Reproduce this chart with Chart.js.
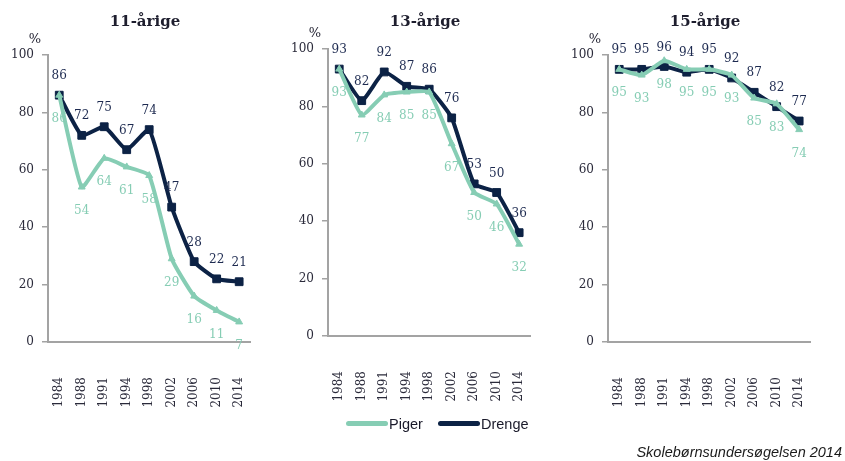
<!DOCTYPE html>
<html><head><meta charset="utf-8">
<script src="https://cdn.jsdelivr.net/npm/chart.js@4.4.1/dist/chart.umd.min.js"></script>
<style>
body{margin:0;background:#fff;width:845px;height:461px;overflow:hidden;position:relative}
.panel{position:absolute;top:0;width:290px;height:420px}
.leg{position:absolute;top:415px;font-family:"Liberation Sans",Arial,sans-serif;font-size:14.5px;color:#1a1a2a;height:18px;line-height:18px}
.sw{position:absolute;top:6px;width:42px;height:5px;border-radius:3px}
.src{position:absolute;right:3px;top:444px;font-family:"Liberation Sans",Arial,sans-serif;font-style:italic;font-size:14.5px;color:#1a1a1a;white-space:nowrap}
</style></head><body>
<div class="panel" style="left:0"><canvas id="c1"></canvas></div>
<div class="panel" style="left:280px"><canvas id="c2"></canvas></div>
<div class="panel" style="left:560px"><canvas id="c3"></canvas></div>
<div class="leg" style="left:346px;width:90px"><div class="sw" style="left:0;background:#86cdb4"></div><span style="position:absolute;left:43px">Piger</span></div>
<div class="leg" style="left:438px;width:100px"><div class="sw" style="left:0;background:#0c2245"></div><span style="position:absolute;left:43px">Drenge</span></div>
<div class="src">Skolebørnsundersøgelsen 2014</div>
<script>
const years = ['1984','1988','1991','1994','1998','2002','2006','2010','2014'];
const titles = ['11-årige','13-årige','15-årige'];
const piger11 = [86,54,64,61,58,29,16,11,7];
const drenge11 = [86,72,75,67,74,47,28,22,21];
const piger13 = [93,77,84,85,85,67,50,46,32];
const drenge13 = [93,82,92,87,86,76,53,50,36];
const piger15 = [95,93,98,95,95,93,85,83,74];
const drenge15 = [95,95,96,94,95,92,87,82,77];
const yMin = 0, yMax = 100, yStep = 20;

const PIGER = '#86cdb4', DRENGE = '#0c2245';
const SERIF = '"DejaVu Serif", "Liberation Serif", serif';

const decor = {
  id: 'decor',
  afterDatasetsDraw(chart, args, opts) {
    const ctx = chart.ctx;
    ctx.save();
    chart.data.datasets.forEach((ds, i) => {
      const meta = chart.getDatasetMeta(i);
      ctx.font = '12px ' + SERIF;
      ctx.textAlign = 'center';
      ctx.textBaseline = 'middle';
      ctx.fillStyle = ds.labelColor;
      meta.data.forEach((pt, j) => {
        ctx.fillText(String(ds.data[j]), pt.x, pt.y + ds.labelOffset);
      });
    });
    ctx.restore();
  },
  afterDraw(chart, args, opts) {
    const ctx = chart.ctx;
    ctx.save();
    ctx.fillStyle = '#1e1e2e';
    ctx.font = 'bold 15px ' + SERIF;
    ctx.textAlign = 'center';
    ctx.textBaseline = 'middle';
    ctx.fillText(opts.title, chart.width / 2, 22);
    ctx.font = '13px ' + SERIF;
    ctx.fillText('%', 35, chart.chartArea.top - 15);
    ctx.restore();
  }
};

function makeChart(id, title, piger, drenge, top, bottomH) {
  return new Chart(document.getElementById(id), {
    type: 'line',
    data: {
      labels: years,
      datasets: [
        {label: 'Piger', data: piger, borderColor: PIGER, backgroundColor: PIGER,
         borderWidth: 4, pointStyle: 'triangle', pointRadius: 4, pointBorderWidth: 1,
         tension: 0.15, labelColor: '#86cdb4', labelOffset: 24},
        {label: 'Drenge', data: drenge, borderColor: DRENGE, backgroundColor: DRENGE,
         borderWidth: 4, pointStyle: 'rect', pointRadius: 5.5, pointBorderWidth: 1,
         tension: 0.15, labelColor: '#1d2a50', labelOffset: -19}
      ]
    },
    options: {
      responsive: true, maintainAspectRatio: false, animation: false,
      layout: {padding: {top: top, right: 26, left: 0, bottom: 0}},
      plugins: {legend: {display: false}, tooltip: {enabled: false}, decor: {title: title}},
      scales: {
        x: {
          offset: true,
          grid: {display: false, drawTicks: false},
          border: {display: true, color: '#a3a3a3', width: 2},
          ticks: {minRotation: 90, maxRotation: 90, padding: 35, color: '#2a2a3a',
                  font: {family: SERIF, size: 12}},
          afterFit(s) { s.height = bottomH; }
        },
        y: {
          min: yMin, max: yMax,
          grid: {display: true, drawOnChartArea: false, drawTicks: true, tickLength: 6, color: '#a3a3a3', lineWidth: 1.5},
          border: {display: true, color: '#a3a3a3', width: 2},
          ticks: {stepSize: yStep, padding: 8, color: '#2a2a3a', font: {family: SERIF, size: 12}},
          afterFit(s) { s.width = 48; }
        }
      }
    },
    plugins: [decor]
  });
}

makeChart('c1', titles[0], piger11, drenge11, 55, 78);
makeChart('c2', titles[1], piger13, drenge13, 49, 84);
makeChart('c3', titles[2], piger15, drenge15, 55, 78);
</script>
</body></html>
